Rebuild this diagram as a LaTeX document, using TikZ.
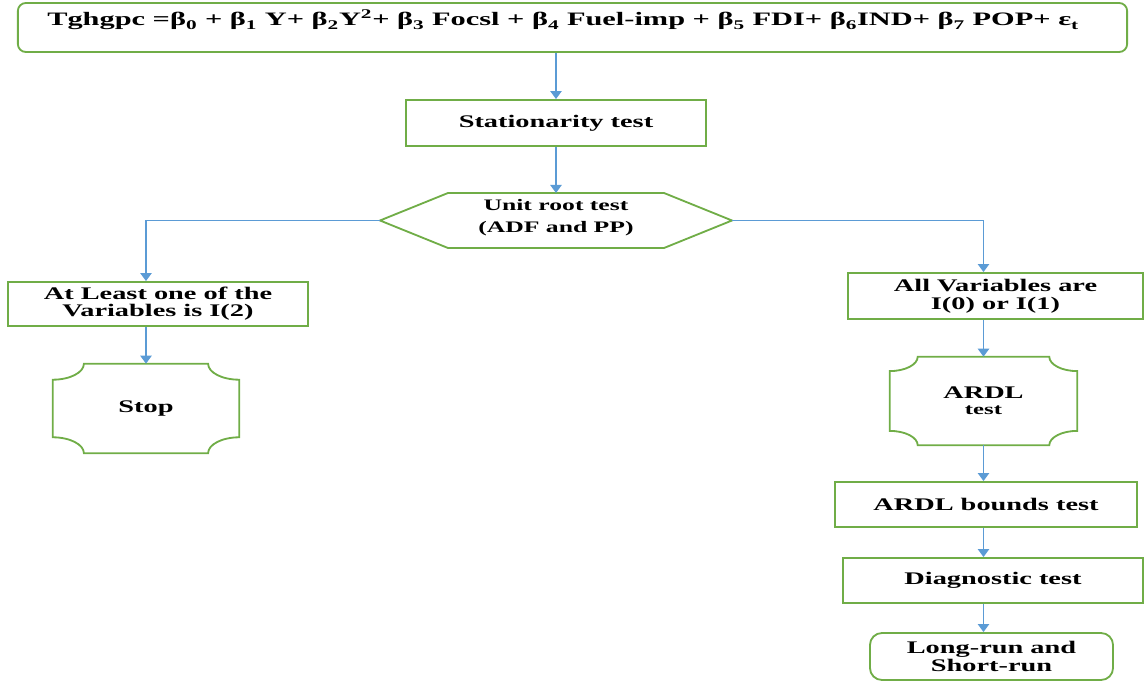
\documentclass[tikz,border=0pt]{standalone}
\usepackage{fontspec}
\setmainfont{Liberation Serif}[FakeStretch=1.6]
\usetikzlibrary{arrows.meta}
\definecolor{boxgreen}{RGB}{112,173,71}
\definecolor{flowblue}{RGB}{91,155,213}
\tikzset{
    stepbox/.style={draw=boxgreen,line width=1.3pt,rectangle,align=center,font=\bfseries\fontsize{12.6}{12.6}\selectfont},
    roundbox/.style={stepbox,rounded corners=0.3cm},
    plaquebox/.style={rectangle,align=center,font=\bfseries\fontsize{12.6}{12.6}\selectfont},
    flow/.style={draw=flowblue,line width=1.2pt,-{Triangle[width=0.28cm,length=0.2cm]}},
}
% concave corners round a node: node, x radius, y radius
\newcommand\plaqueborder[3]{%
    \draw[draw=boxgreen,line width=1.3pt] ([xshift=#2]#1.north west) -- ([xshift=-#2]#1.north east)
        arc[start angle=180,end angle=270,x radius=#2,y radius=#3] -- ([yshift=#3]#1.south east)
        arc[start angle=90,end angle=180,x radius=#2,y radius=#3] -- ([xshift=#2]#1.south west)
        arc[start angle=0,end angle=90,x radius=#2,y radius=#3] -- ([yshift=-#3]#1.north west)
        arc[start angle=-90,end angle=0,x radius=#2,y radius=#3] -- cycle;}

\begin{document}
\begin{tikzpicture}[x=0.025cm,y=-0.025cm]
        \useasboundingbox (0,0) rectangle (1147,682);

        \node[roundbox,rounded corners=0.2cm,minimum width=27.725cm,minimum height=1.225cm] (eqn) at (572.5,27.5) {};
        \node[anchor=west,inner sep=0pt,font=\bfseries\fontsize{13.5}{13.5}\selectfont] (eqntext) at (47,20)
            {Tghgpc =β\textsubscript{0} + β\textsubscript{1} Y+ β\textsubscript{2}Y\textsuperscript{2}+ β\textsubscript{3} Focsl + β\textsubscript{4} Fuel-imp + β\textsubscript{5} FDI+ β\textsubscript{6}IND+ β\textsubscript{7} POP+ ε\textsubscript{t}};

        \node[stepbox,minimum width=7.5cm,minimum height=1.15cm] (stat) at (556,123) {Stationarity test};

        % hexagon for the unit root test
        \coordinate (hexn) at (556,193);
        \coordinate (hexw) at (380,220.5);
        \coordinate (hexe) at (732,220.5);
        \draw[draw=boxgreen,line width=1.3pt] (hexw) -- (448,193) -- (664,193) -- (hexe) -- (664,248) -- (448,248) -- cycle;
        \node[align=center,font=\bfseries\fontsize{11.4}{15.6}\selectfont] (unitroot) at (556,218) {Unit root test\\(ADF and PP)};

        % left branch
        \node[stepbox,minimum width=7.5cm,minimum height=1.1cm,font=\bfseries\fontsize{12.6}{12}\selectfont] (least) at (158,304) {At Least one of the\\Variables is I(2)};
        \node[plaquebox,minimum width=4.65cm,minimum height=2.225cm] (stop) at (146,408.5) {Stop};
        \plaqueborder{stop}{0.78cm}{0.4cm}

        % right branch
        \node[stepbox,minimum width=7.375cm,minimum height=1.15cm,font=\bfseries\fontsize{12.6}{12.8}\selectfont] (allvar) at (995.5,296) {All Variables are\\I(0) or I(1)};
        \node[plaquebox,minimum width=4.675cm,minimum height=2.2cm,font=\bfseries\fontsize{12.6}{11.4}\selectfont] (ardl) at (983.5,401) {ARDL\\{\fontsize{11}{11.4}\selectfont test}};
        \plaqueborder{ardl}{0.7cm}{0.36cm}
        \node[stepbox,minimum width=7.55cm,minimum height=1.125cm] (bounds) at (986,504.5) {ARDL bounds test};
        \node[stepbox,minimum width=7.5cm,minimum height=1.125cm] (diag) at (993,580.5) {Diagnostic test};
        \node[roundbox,minimum width=6.075cm,minimum height=1.175cm,font=\bfseries\fontsize{12.6}{11.4}\selectfont] (longrun) at (991.5,656.5) {Long-run and\\Short-run};

        % connectors
        \draw[flow] (stat.north |- eqn.south) -- (stat.north);
        \draw[flow] (stat.south) -- (hexn);
        \draw[flow] (hexw) -| (least.north -| stop.north);
        \draw[flow] (least.south -| stop.north) -- (stop.north);
        \draw[flow] (hexe) -| (allvar.north -| ardl.north);
        \draw[flow] (allvar.south -| ardl.north) -- (ardl.north);
        \draw[flow] (ardl.south) -- (bounds.north -| ardl.south);
        \draw[flow] (bounds.south -| ardl.south) -- (diag.north -| ardl.south);
        \draw[flow] (diag.south -| ardl.south) -- (longrun.north -| ardl.south);
\end{tikzpicture}
\end{document}
